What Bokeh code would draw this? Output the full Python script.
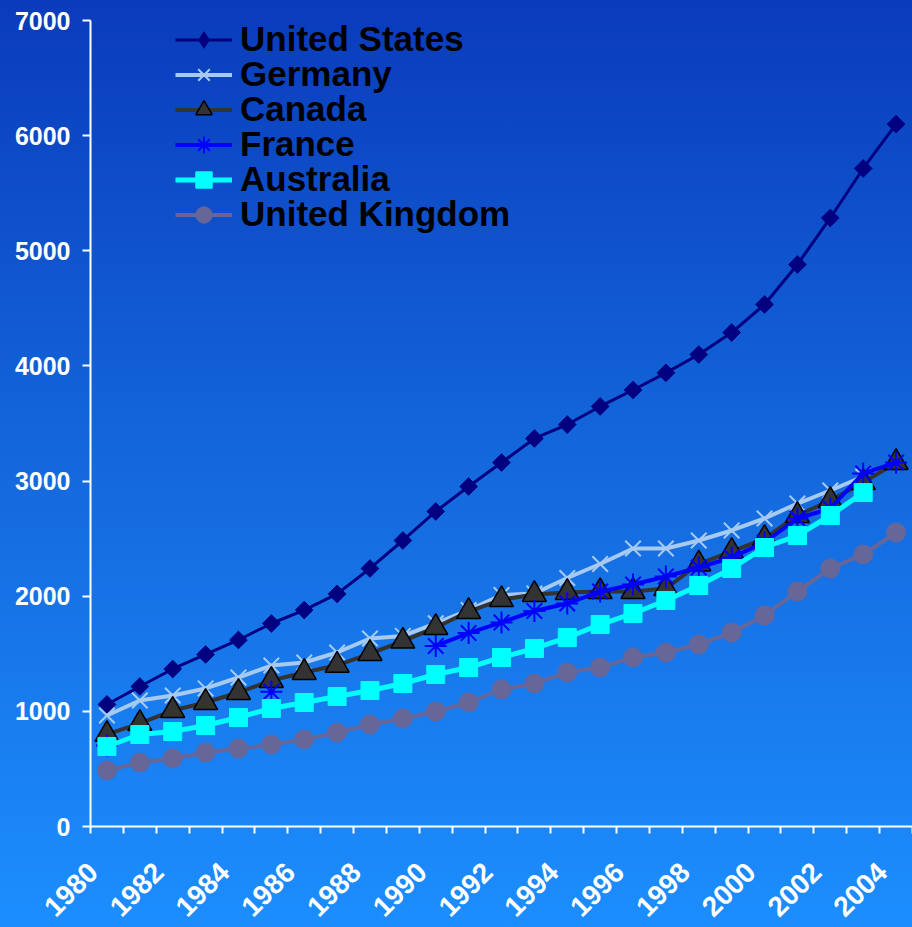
import math
from bokeh.plotting import figure
from bokeh.models import Range1d, FixedTicker, Legend, LegendItem, CustomJSTickFormatter
from bokeh.embed import file_html
from bokeh.resources import INLINE

nan = float("nan")

years = list(range(1980, 2005))
label_years = [1980, 1982, 1984, 1986, 1988, 1990, 1992, 1994, 1996, 1998, 2000, 2002, 2004]
y_ticks = [0, 1000, 2000, 3000, 4000, 5000, 6000, 7000]

united_states = [1060, 1216, 1368, 1494, 1620, 1763, 1880, 2020, 2241, 2484, 2736, 2953, 3161,
                 3370, 3491, 3648, 3791, 3940, 4099, 4290, 4534, 4881, 5285, 5715, 6100]
germany = [964, 1094, 1138, 1199, 1294, 1398, 1424, 1511, 1633, 1655, 1765, 1880, 2010,
           2024, 2158, 2280, 2414, 2414, 2484, 2571, 2675, 2805, 2918, 3040, nan]
canada = [800, 895, 1007, 1077, 1164, 1268, 1337, 1400, 1502, 1610, 1728, 1867, 1970,
          2015, 2032, 2040, 2041, 2067, 2280, 2388, 2501, 2701, 2831, 2988, 3161]
france = [703, nan, nan, nan, nan, 1170, nan, nan, nan, nan, 1568, 1680, 1772,
          1872, 1937, 2040, 2102, 2171, 2249, 2336, 2467, 2675, 2762, 3066, 3161]
australia = [695, 799, 825, 877, 947, 1025, 1077, 1129, 1181, 1242, 1320, 1381, 1468,
             1546, 1641, 1754, 1850, 1963, 2093, 2241, 2423, 2527, 2701, 2900, nan]
united_kingdom = [486, 556, 591, 643, 677, 712, 756, 816, 886, 938, 999, 1077, 1190,
                  1242, 1337, 1381, 1468, 1511, 1581, 1685, 1833, 2041, 2241, 2362, 2553]

series = [
    ("United States", united_states, dict(line_color="#000080", line_width=3,
        marker="square", size=12.5, angle=math.pi / 4, fill_color="#000080", mline="#000080", mlw=1,
        legend_marker="diamond")),
    ("Germany", germany, dict(line_color="#a6caf0", line_width=4,
        marker="x", size=22, angle=0, fill_color="#a6caf0", mline="#a6caf0", mlw=2)),
    ("Canada", canada, dict(line_color="#333333", line_width=4,
        marker="triangle", size=24, angle=0, fill_color="#333333", mline="#000000", mlw=1.5)),
    ("France", france, dict(line_color="#0000ff", line_width=4,
        marker="asterisk", size=22, angle=0, fill_color="#0000ff", mline="#0000ff", mlw=2)),
    ("Australia", australia, dict(line_color="#00ffff", line_width=5,
        marker="square", size=18, angle=0, fill_color="#00ffff", mline="#00ffff", mlw=1)),
    ("United Kingdom", united_kingdom, dict(line_color="#666699", line_width=4,
        marker="circle", size=19, angle=0, fill_color="#666699", mline="#666699", mlw=1)),
]

p = figure(width=912, height=927, output_backend="svg", toolbar_location=None,
           x_range=Range1d(1979.5, 2004.5), y_range=Range1d(0, 7000),
           min_border_left=90, min_border_top=20, min_border_right=0, min_border_bottom=101)
p.styles = {"background": "linear-gradient(to bottom, #0a3bbb 0%, #1468dc 50%, #1c8eff 100%)"}
p.background_fill_color = None
p.border_fill_color = None
p.outline_line_color = None
p.grid.visible = False

row_h = 41
row_pitch = 35
first_row_centre = 39
for i, (name, vals, st) in enumerate(series):
    r1 = p.line(years, vals, line_color=st["line_color"], line_width=st["line_width"])
    r2 = p.scatter(years, vals, marker=st["marker"], size=st["size"], angle=st["angle"],
                   fill_color=st["fill_color"], line_color=st["mline"], line_width=st["mlw"])
    legend_renderers = [r1, r2]
    if "legend_marker" in st:
        # legend swatch only (Bokeh's legend does not rotate markers); holds no data point
        proxy = p.scatter(x=[nan], y=[nan], marker=st["legend_marker"], size=st["size"],
                          fill_color=st["fill_color"], line_color=st["mline"], line_width=st["mlw"])
        legend_renderers = [r1, proxy]
    centre = first_row_centre + i * row_pitch
    lg = Legend(items=[LegendItem(label=name, renderers=legend_renderers)],
                location=(85, 826 - centre - row_h / 2), padding=0, margin=0, spacing=0,
                glyph_width=57, glyph_height=row_h, label_height=row_h, label_standoff=8,
                label_text_font="Liberation Sans", label_text_font_style="bold",
                label_text_font_size="35px", label_text_color="black",
                background_fill_alpha=0, border_line_color=None)
    p.add_layout(lg)

label_shift = 0.42  # rotated labels sit a little left of their category centre
xa = p.xaxis[0]
xa.ticker = FixedTicker(ticks=[y - label_shift for y in label_years],
                        minor_ticks=[y - 0.5 for y in years] + [2004.5])
xa.formatter = CustomJSTickFormatter(code="return String(Math.round(tick + %s));" % label_shift)
xa.axis_line_color = "white"
xa.axis_line_width = 2
xa.major_tick_out = 0
xa.major_tick_in = 0
xa.minor_tick_out = 7
xa.minor_tick_in = 0
xa.minor_tick_line_color = "white"
xa.minor_tick_line_width = 2
xa.major_label_orientation = math.pi / 4
xa.major_label_standoff = 34
xa.major_label_text_font = "Liberation Sans"
xa.major_label_text_font_style = "bold"
xa.major_label_text_font_size = "28px"
xa.major_label_text_color = "white"

ya = p.yaxis[0]
ya.ticker = FixedTicker(ticks=y_ticks, minor_ticks=[])
ya.axis_line_color = "white"
ya.axis_line_width = 2
ya.major_tick_out = 8
ya.major_tick_in = 0
ya.major_tick_line_color = "white"
ya.major_tick_line_width = 2
ya.minor_tick_out = 0
ya.minor_tick_in = 0
ya.major_label_standoff = 12
ya.major_label_text_font = "Liberation Sans"
ya.major_label_text_font_style = "bold"
ya.major_label_text_font_size = "25px"
ya.major_label_text_color = "white"

open("out.html", "w").write(file_html(p, INLINE))
